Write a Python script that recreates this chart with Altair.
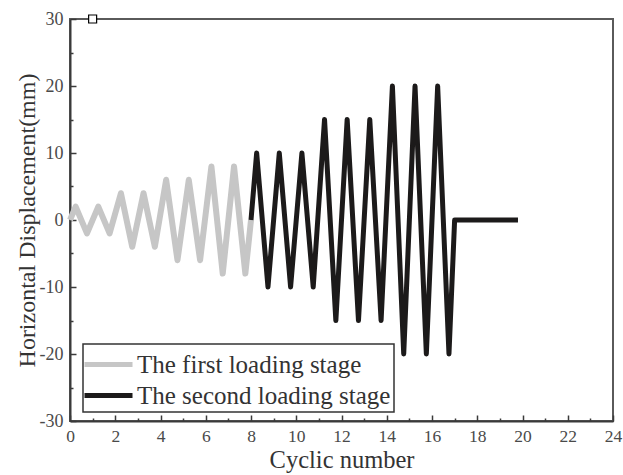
import altair as alt
import pandas as pd

# Loading protocol: displacement peaks at quarter / three-quarter cycles
stages = ["The first loading stage", "The second loading stage"]

cycle_1 = [0, 0.25, 0.75, 1.25, 1.75, 2.25, 2.75, 3.25, 3.75, 4.25, 4.75,
           5.25, 5.75, 6.25, 6.75, 7.25, 7.75, 8]
disp_1 = [0, 2, -2, 2, -2, 4, -4, 4, -4, 6, -6, 6, -6, 8, -8, 8, -8, 0]

cycle_2 = [8, 8.25, 8.75, 9.25, 9.75, 10.25, 10.75, 11.25, 11.75, 12.25,
           12.75, 13.25, 13.75, 14.25, 14.75, 15.25, 15.75, 16.25, 16.75,
           17, 19.8]
disp_2 = [0, 10, -10, 10, -10, 10, -10, 15, -15, 15, -15, 15, -15, 20, -20,
          20, -20, 20, -20, 0, 0]

# Tick positions
x_major = list(range(0, 25, 2))
x_minor = list(range(1, 24, 2))
y_major = list(range(-30, 31, 10))
y_minor = list(range(-25, 26, 10))

# Small anchor marker on the top frame
marker_x = [1]
marker_y = [30]

FONT = "Liberation Serif"
AXIS_COLOR = "#3a3a3a"

df1 = pd.DataFrame({"cycle": cycle_1, "disp": disp_1,
                    "stage": stages[0], "idx": range(len(cycle_1))})
df2 = pd.DataFrame({"cycle": cycle_2, "disp": disp_2,
                    "stage": stages[1], "idx": range(len(cycle_2))})
df_marker = pd.DataFrame({"cycle": marker_x, "disp": marker_y})

x_scale = alt.Scale(domain=[0, 24], nice=False, zero=False)
y_scale = alt.Scale(domain=[-30, 30], nice=False, zero=False)

x_axis = alt.Axis(
    values=x_major, orient="bottom", ticks=False, tickSize=0, grid=False,
    labelFont=FONT, labelFontSize=17.5, labelColor="#4a4a4a",
    labelPadding=20, labelBaseline="alphabetic", labelFlush=False,
    domainColor=AXIS_COLOR, domainWidth=2,
    title="Cyclic number", titleFont=FONT, titleFontSize=24.5,
    titleFontWeight="normal", titleColor="#333333",
    titleBaseline="alphabetic", titleY=46,
)
y_axis = alt.Axis(
    values=y_major, orient="left", ticks=False, tickSize=0, grid=False,
    labelFont=FONT, labelFontSize=18, labelColor="#4a4a4a",
    labelPadding=7, labelExpr="'' + datum.value",
    domainColor=AXIS_COLOR, domainWidth=2,
    title="Horizontal Displacement(mm)", titleFont=FONT, titleFontSize=24,
    titleFontWeight="normal", titleColor="#333333",
    titleBaseline="alphabetic", titleAngle=-90, titleX=-36, titleY=201,
)

color = alt.Color(
    "stage:N",
    scale=alt.Scale(domain=stages, range=["#c6c6c6", "#1c1a1a"]),
    legend=alt.Legend(title=None, orient="none", legendX=13, legendY=325),
)

line_1 = alt.Chart(df1).mark_line(strokeWidth=6, strokeJoin="round").encode(
    x=alt.X("cycle:Q", scale=x_scale, axis=x_axis),
    y=alt.Y("disp:Q", scale=y_scale, axis=y_axis),
    color=color,
    order="idx:Q",
)
line_2 = alt.Chart(df2).mark_line(strokeWidth=5, strokeJoin="round").encode(
    x=alt.X("cycle:Q", scale=x_scale, axis=x_axis),
    y=alt.Y("disp:Q", scale=y_scale, axis=y_axis),
    color=color,
    order="idx:Q",
)
marker = alt.Chart(df_marker).mark_point(
    shape="square", filled=True, fill="white", stroke="black",
    strokeWidth=1.2, size=64, opacity=1,
).encode(
    x=alt.X("cycle:Q", scale=x_scale, axis=x_axis),
    y=alt.Y("disp:Q", scale=y_scale, axis=y_axis),
)


def inner_ticks(xvals, yvals, length):
    """Invisible layer whose axes draw ticks pointing into the plot."""
    common = dict(offset=-length, tickSize=length, labels=False,
                  domain=False, grid=False, title=None,
                  tickColor=AXIS_COLOR, tickWidth=1.5)
    return alt.Chart(df_marker).mark_point(opacity=0).encode(
        x=alt.X("cycle:Q", scale=x_scale,
                axis=alt.Axis(values=xvals, orient="bottom", **common)),
        y=alt.Y("disp:Q", scale=y_scale,
                axis=alt.Axis(values=yvals, orient="left", **common)),
    )


plot = alt.layer(line_1, line_2, marker)

chart = alt.layer(
    plot, inner_ticks(x_major, y_major, 6), inner_ticks(x_minor, y_minor, 3)
).resolve_scale(
    x="independent", y="independent"
).properties(
    width=543, height=402,
    autosize=alt.AutoSizeParams(type="none"),
    padding={"left": 70, "top": 19, "right": 10, "bottom": 54},
).configure(
    font=FONT,
).configure_view(
    stroke="#5a5a5a", strokeWidth=2,
).configure_legend(
    strokeColor="#333333", strokeWidth=1.5, padding=3,
    labelFont=FONT, labelFontSize=25, labelColor="#333333", labelLimit=400,
    symbolType="M-1.6,0H1.6", symbolSize=900, symbolStrokeWidth=5,
    symbolOffset=5, labelOffset=11, rowPadding=0,
)

chart.save("out.html", embed_options={"renderer": "svg", "actions": False})
